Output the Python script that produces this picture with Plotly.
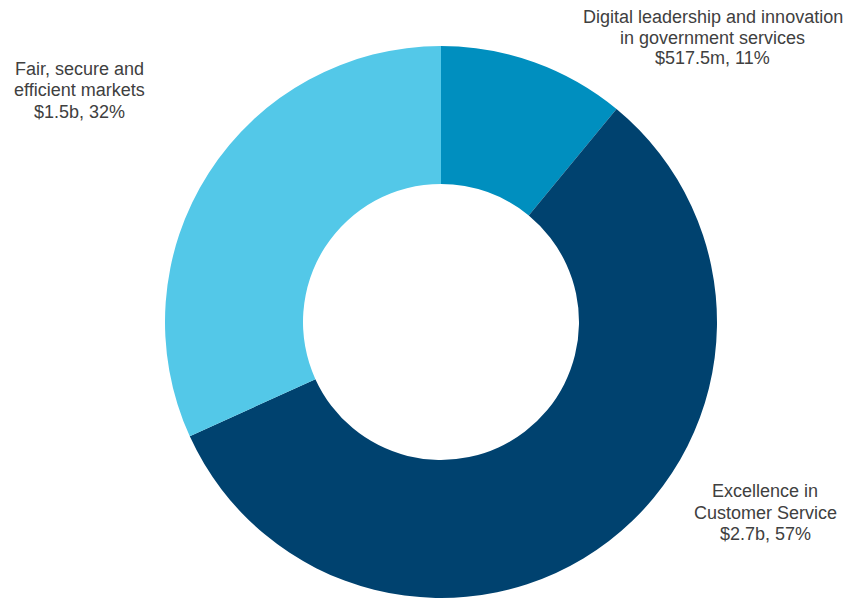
import plotly.graph_objects as go

categories = [["Digital leadership and innovation", "in government services"],
              ["Excellence in", "Customer Service"],
              ["Fair, secure and", "efficient markets"]]
values = [517.5, 2700, 1500]  # $m
value_labels = ["$517.5m", "$2.7b", "$1.5b"]
colors = ["#008FBF", "#00426F", "#53C8E8"]

total = sum(values)
pcts = [round(v / total * 100) for v in values]

W, H = 850, 598
fig = go.Figure(go.Pie(
    values=values,
    labels=[" ".join(c) for c in categories],
    sort=False,
    direction="clockwise",
    rotation=0,
    hole=0.5,
    marker=dict(colors=colors, line=dict(width=0)),
    textinfo="none",
    hoverinfo="label+percent",
    domain=dict(x=[165 / W, 717 / W], y=[0, 1 - 46 / H]),
    showlegend=False,
))

# (center x px, first line center y px)
label_pos = [(712.5, 16.5), (765, 491.5), (79, 69.5)]
line_gap = 21
for cat, vl, p, (x, y0) in zip(categories, value_labels, pcts, label_pos):
    lines = list(cat) + [f"{vl}, {p}%"]
    for i, ln in enumerate(lines):
        fig.add_annotation(
            x=x / W, y=1 - (y0 + i * line_gap) / H, xref="paper", yref="paper",
            text=ln, showarrow=False, xanchor="center", yanchor="middle",
            font=dict(family="Liberation Sans, Arial", size=18, color="#404040"),
        )

fig.update_layout(
    width=W, height=H,
    margin=dict(l=0, r=0, t=0, b=0),
    paper_bgcolor="white", plot_bgcolor="white",
)
fig.write_html("out.html",
               config={"displayModeBar": False},
               post_script="document.body.style.margin='0';document.body.style.overflow='hidden';")
